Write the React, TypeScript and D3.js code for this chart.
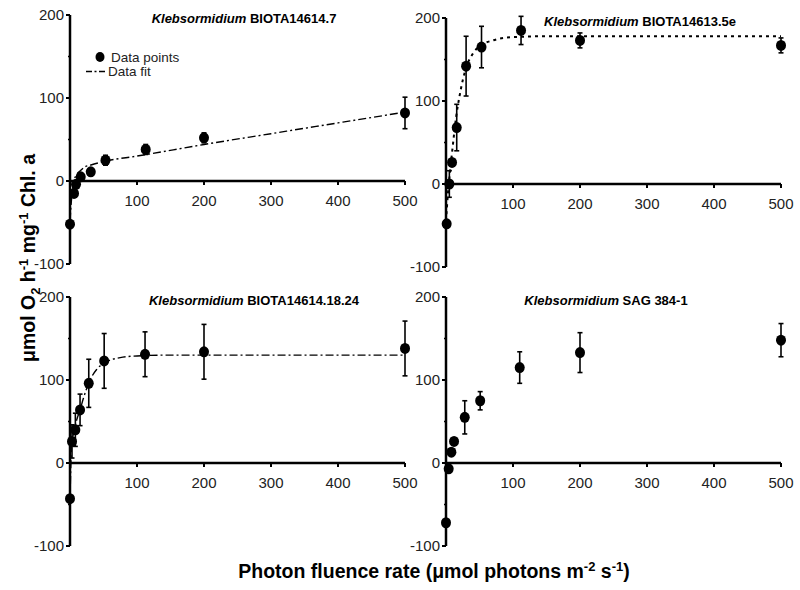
import React from "react";
import * as d3 from "d3";

// ---- Data ----
const titlesStrain = ["BIOTA14614.7", "BIOTA14613.5e", "BIOTA14614.18.24", "SAG 384-1"];

const xTL = [0, 6, 9, 16, 31, 53, 113, 200, 500];
const yTL = [-52, -15, -4, 5, 11, 25, 38, 52, 82];
const eTL = [0, 3, 3, 4, 3, 6, 6, 6, 19];
const fitTL: [number, number][] = [[0, -48], [3, -15], [6, 0], [10, 8], [15, 12], [22, 17], [30, 19], [53, 24], [100, 30], [200, 44], [300, 57], [400, 70], [500, 83]];

const xTR = [1, 5, 9, 16, 30, 53, 112, 200, 500];
const yTR = [-48, 0, 26, 68, 142, 165, 185, 173, 167];
const eTR = [0, 16, 0, 28, 36, 25, 17, 9, 9];
const fitTR: [number, number][] = [[0, -45], [3, -10], [6, 15], [10, 45], [15, 80], [20, 105], [25, 125], [30, 140], [40, 157], [50, 166], [70, 173], [100, 177], [150, 178], [500, 178]];

const xBL = [0, 3, 8, 15, 28, 51, 112, 200, 500];
const yBL = [-43, 26, 40, 64, 96, 123, 131, 134, 138];
const eBL = [0, 20, 20, 19, 29, 33, 27, 33, 33];
const fitBL: [number, number][] = [[0, -45], [1, -10], [2, 15], [4, 30], [7, 42], [10, 52], [15, 64], [20, 78], [30, 100], [40, 113], [50, 120], [75, 127], [100, 129], [150, 130], [500, 130]];

const xBR = [0, 4, 8, 12, 28, 51, 110, 200, 500];
const yBR = [-72, -7, 13, 26, 55, 75, 115, 133, 148];
const eBR = [0, 0, 0, 0, 20, 11, 19, 24, 20];

const xTicks = [100, 200, 300, 400, 500];
const yTicks = [200, 100, 0, -100];
const yMinor = [150, 50, -50];

const FONT = "'Liberation Sans', Arial, sans-serif";

type PanelProps = {
  x0: number;
  yTop: number;
  xs: number[];
  ys: number[];
  es: number[];
  fit?: [number, number][];
  fitDash?: string;
  fitWidth?: number;
  strain: string;
  titleX: number;
  legend?: boolean;
};

function Panel({ x0, yTop, xs, ys, es, fit, fitDash, fitWidth, strain, titleX, legend }: PanelProps) {
  const x = d3.scaleLinear().domain([0, 500]).range([x0, x0 + 335]);
  const y = d3.scaleLinear().domain([200, -100]).range([yTop, yTop + 249]);
  const line = d3.line<[number, number]>().x((d) => x(d[0])).y((d) => y(d[1])).curve(d3.curveMonotoneX);
  return (
    <g>
      {/* y axis */}
      <line x1={x(0)} x2={x(0)} y1={y(200)} y2={y(-100)} stroke="#000" strokeWidth={2.5} />
      {yTicks.map((t) => (
        <g key={t}>
          <line x1={x(0) - 4} x2={x(0)} y1={y(t)} y2={y(t)} stroke="#000" strokeWidth={2} />
          <text x={x(0) - 6} y={y(t) + 5} textAnchor="end" fontSize={15} fontFamily={FONT} fill="#222">{t}</text>
        </g>
      ))}
      {yMinor.map((t) => (
        <line key={t} x1={x(0) - 2} x2={x(0)} y1={y(t)} y2={y(t)} stroke="#000" strokeWidth={1.5} />
      ))}
      {/* x axis */}
      <line x1={x(0)} x2={x(500)} y1={y(0)} y2={y(0)} stroke="#000" strokeWidth={2.5} />
      {xTicks.map((t) => (
        <g key={t}>
          <line x1={x(t)} x2={x(t)} y1={y(0)} y2={y(0) + 4} stroke="#000" strokeWidth={2} />
          <text x={x(t)} y={y(0) + 25} textAnchor="middle" fontSize={15} fontFamily={FONT} fill="#222">{t}</text>
        </g>
      ))}
      {/* title */}
      <text x={titleX} y={yTop + 8} textAnchor="middle" fontSize={13} fontWeight="bold" fontFamily={FONT}>
        <tspan fontStyle="italic">Klebsormidium</tspan> {strain}
      </text>
      {/* fit */}
      {fit && (
        <path d={line(fit) || ""} fill="none" stroke="#000" strokeWidth={fitWidth ?? 1.4} strokeDasharray={fitDash} />
      )}
      {/* error bars & points */}
      {xs.map((xv, i) => (
        <g key={i}>
          {es[i] > 0 && (
            <g stroke="#000" strokeWidth={1.6}>
              <line x1={x(xv)} x2={x(xv)} y1={y(ys[i] + es[i])} y2={y(ys[i] - es[i])} />
              <line x1={x(xv) - 2.5} x2={x(xv) + 2.5} y1={y(ys[i] + es[i])} y2={y(ys[i] + es[i])} />
              <line x1={x(xv) - 2.5} x2={x(xv) + 2.5} y1={y(ys[i] - es[i])} y2={y(ys[i] - es[i])} />
            </g>
          )}
          <ellipse cx={x(xv)} cy={y(ys[i])} rx={5} ry={5.5} fill="#000" />
        </g>
      ))}
      {legend && (
        <g>
          <ellipse cx={100} cy={57} rx={4.5} ry={5} fill="#000" />
          <text x={111} y={62} fontSize={13.5} fontFamily={FONT} fill="#222">Data points</text>
          <line x1={86} x2={107} y1={71.5} y2={71.5} stroke="#000" strokeWidth={1.6} strokeDasharray="6,2.5,2,2.5" />
          <text x={108} y={76} fontSize={13.5} fontFamily={FONT} fill="#222">Data fit</text>
        </g>
      )}
    </g>
  );
}

export default function App() {
  return (
    <svg width={800} height={590} style={{ position: "absolute", left: 0, top: 0, background: "#fff" }}>
      <rect x={0} y={0} width={800} height={590} fill="#fff" />
      <Panel x0={70} yTop={15} xs={xTL} ys={yTL} es={eTL} fit={fitTL} fitDash="8,3,2,3" strain={titlesStrain[0]} titleX={244} legend />
      <Panel x0={446} yTop={18} xs={xTR} ys={yTR} es={eTR} fit={fitTR} fitDash="3,4" fitWidth={2} strain={titlesStrain[1]} titleX={640} />
      <Panel x0={70} yTop={297} xs={xBL} ys={yBL} es={eBL} fit={fitBL} fitDash="8,3,2,3" strain={titlesStrain[2]} titleX={254} />
      <Panel x0={446} yTop={297} xs={xBR} ys={yBR} es={eBR} strain={titlesStrain[3]} titleX={606} />
      <text transform="translate(35,258) rotate(-90)" textAnchor="middle" fontSize={19.5} fontWeight="bold" fontFamily={FONT}>
        μmol O<tspan fontSize={13} dy={5}>2</tspan><tspan dy={-5}> h</tspan><tspan fontSize={13} dy={-7}>-1</tspan><tspan dy={7}> mg</tspan><tspan fontSize={13} dy={-7}>-1</tspan><tspan dy={7}> Chl. a</tspan>
      </text>
      <text x={434} y={578} textAnchor="middle" fontSize={19.5} fontWeight="bold" fontFamily={FONT}>
        Photon fluence rate (μmol photons m<tspan fontSize={13} dy={-7}>-2</tspan><tspan dy={7}> s</tspan><tspan fontSize={13} dy={-7}>-1</tspan><tspan dy={7}>)</tspan>
      </text>
    </svg>
  );
}
